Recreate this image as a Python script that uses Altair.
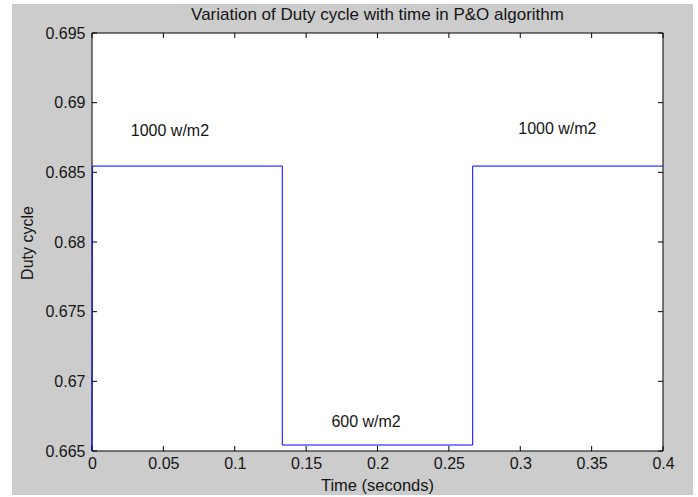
import altair as alt
import pandas as pd

# ---- data ----
time_s = [0.0, 0.0003, 0.1333, 0.1333, 0.2667, 0.2667, 0.4]
duty = [0.665, 0.68545, 0.68545, 0.66543, 0.66543, 0.68545, 0.68545]

label_text = ["1000 w/m2", "600 w/m2", "1000 w/m2"]
label_x = [0.0546, 0.192, 0.326]
label_y = [0.6880, 0.6671, 0.6881]

x_ticks = [0, 0.05, 0.1, 0.15, 0.2, 0.25, 0.3, 0.35, 0.4]
y_ticks = [0.665, 0.67, 0.675, 0.68, 0.685, 0.69, 0.695]

chart_title = "Variation of Duty cycle with time in P&O algorithm"
x_title = "Time (seconds)"
y_title = "Duty cycle"

W, H = 571, 418
FONT = "Liberation Sans"
TXT = "#151515"

line_df = pd.DataFrame({"t": time_s, "d": duty})
lab_df = pd.DataFrame({"t": label_x, "d": label_y, "txt": label_text})
xt_df = pd.DataFrame({"t": x_ticks})
yt_df = pd.DataFrame({"d": y_ticks})

xscale = alt.Scale(domain=[0, 0.4], nice=False, zero=False)
yscale = alt.Scale(domain=[0.665, 0.695], nice=False, zero=False)

xaxis = alt.Axis(values=x_ticks, format=".2~f", title=None, ticks=False,
                 domain=False, grid=False, labelFlush=False, labelOverlap=False,
                 labelPadding=4, labelFontSize=16, labelFont=FONT, labelColor=TXT,
                 zindex=2)
yaxis = alt.Axis(values=y_ticks, format=".3~f", title=None, ticks=False,
                 domain=False, grid=False, labelFlush=False, labelOverlap=False,
                 labelPadding=7, labelFontSize=16, labelFont=FONT, labelColor=TXT,
                 zindex=2)

base_x = alt.X("t:Q", scale=xscale, axis=xaxis)
base_y = alt.Y("d:Q", scale=yscale, axis=yaxis)

one = pd.DataFrame({"k": [0]})

grey_bg = alt.Chart(one).mark_rect(color="#cccccc").encode(
    x=alt.value(-80), x2=alt.value(W + 30), y=alt.value(-29), y2=alt.value(H + 44))
white_box = alt.Chart(one).mark_rect(fill="white", stroke="black", strokeWidth=1).encode(
    x=alt.value(0), x2=alt.value(W), y=alt.value(0), y2=alt.value(H))

line = alt.Chart(line_df).mark_line(color="#0000ff", strokeWidth=1, interpolate="linear").encode(
    x=base_x, y=base_y)

labels = alt.Chart(lab_df).mark_text(font=FONT, fontSize=16, color=TXT).encode(
    x=alt.X("t:Q", scale=xscale), y=alt.Y("d:Q", scale=yscale), text="txt:N")

title_df = pd.DataFrame({"txt": [chart_title]})
xt_title_df = pd.DataFrame({"txt": [x_title]})
yt_title_df = pd.DataFrame({"txt": [y_title]})

title_mark = alt.Chart(title_df).mark_text(font=FONT, fontSize=17, color=TXT,
                                           baseline="alphabetic", align="center").encode(
    x=alt.value(W / 2), y=alt.value(-13), text="txt:N")
xtitle_mark = alt.Chart(xt_title_df).mark_text(font=FONT, fontSize=16.5, color=TXT,
                                               baseline="alphabetic", align="center").encode(
    x=alt.value(W / 2), y=alt.value(458), text="txt:N")
ytitle_mark = alt.Chart(yt_title_df).mark_text(font=FONT, fontSize=16, color=TXT,
                                               baseline="alphabetic", align="center",
                                               angle=270).encode(
    x=alt.value(-59), y=alt.value(H / 2 + 1), text="txt:N")

tick_len = 5
xt_bottom = alt.Chart(xt_df).mark_rule(color="black").encode(
    x=alt.X("t:Q", scale=xscale), y=alt.value(H), y2=alt.value(H - tick_len))
xt_top = alt.Chart(xt_df).mark_rule(color="black").encode(
    x=alt.X("t:Q", scale=xscale), y=alt.value(0), y2=alt.value(tick_len))
yt_left = alt.Chart(yt_df).mark_rule(color="black").encode(
    y=alt.Y("d:Q", scale=yscale), x=alt.value(0), x2=alt.value(tick_len))
yt_right = alt.Chart(yt_df).mark_rule(color="black").encode(
    y=alt.Y("d:Q", scale=yscale), x=alt.value(W), x2=alt.value(W - tick_len))

chart = alt.layer(
    grey_bg, white_box, xt_bottom, xt_top, yt_left, yt_right, line, labels,
    title_mark, xtitle_mark, ytitle_mark
).properties(
    width=W, height=H,
    autosize=alt.AutoSizeParams(type="none"),
    padding={"left": 92, "top": 33, "right": 35, "bottom": 46},
    background="white",
).configure_view(stroke=None, fill="white")

chart.save("out.html", embed_options={"renderer": "svg", "actions": False})
